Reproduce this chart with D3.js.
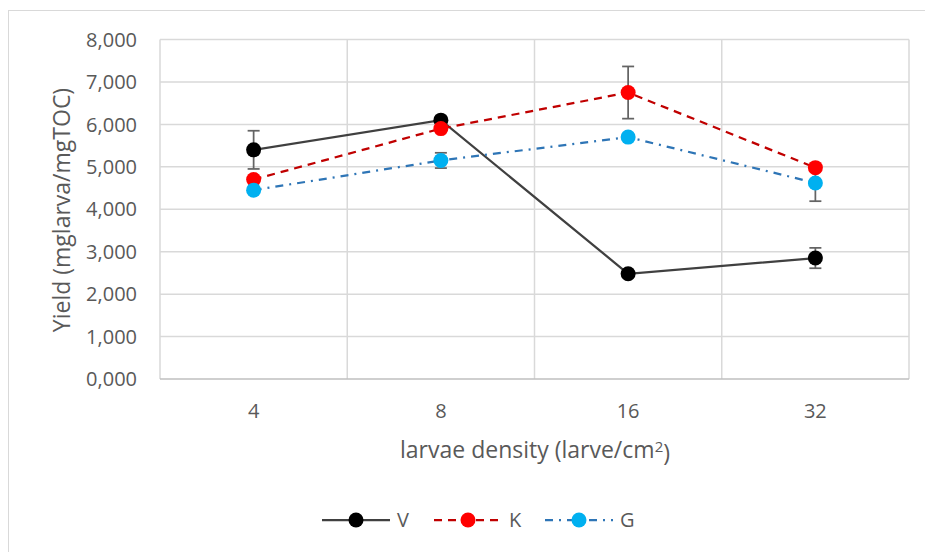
<!DOCTYPE html>
<html><head><meta charset="utf-8">
<script src="https://cdn.jsdelivr.net/npm/d3@7"></script>
<style>body{margin:0;background:#fff}svg{display:block}</style>
</head><body>
<svg id="c" width="925" height="552"></svg>
<script>
const categories = ["4", "8", "16", "32"];
const seriesNames = ["V", "K", "G"];
const valuesV = [5400, 6100, 2480, 2850];
const valuesK = [4700, 5900, 6750, 4980];
const valuesG = [4450, 5150, 5700, 4620];
const errorsV = [450, 0, 0, 240];
const errorsK = [0, 0, 615, 0];
const errorsG = [0, 180, 0, 430];
const yTicks = [0, 1000, 2000, 3000, 4000, 5000, 6000, 7000, 8000];

const series = [
  {name: "V", values: valuesV, errors: errorsV, line: "#404040", fill: "#000000", dash: null},
  {name: "K", values: valuesK, errors: errorsK, line: "#C00000", fill: "#FF0000", dash: "8,6"},
  {name: "G", values: valuesG, errors: errorsG, line: "#2E75B6", fill: "#00B0F0", dash: "8,6,2,6"}
];

const svg = d3.select("#c");
const font = "'Open Sans', sans-serif";
const textColor = "#595959";
const L = 160, R = 909, T = 39.5, B = 379;

// outer chart border
svg.append("rect").attr("x", 8.5).attr("y", 10.5).attr("width", 940).attr("height", 560)
  .attr("fill", "none").attr("stroke", "#d9d9d9").attr("stroke-width", 1);

const x = d3.scaleBand().domain(categories).range([L, R]).paddingInner(0).paddingOuter(0);
const y = d3.scaleLinear().domain([0, 8000]).range([B, T]);
const cx = c => x(c) + x.bandwidth() / 2;

// horizontal gridlines
svg.append("g").selectAll("line").data(yTicks.filter(d => d > 0)).join("line")
  .attr("x1", L).attr("x2", R).attr("y1", d => y(d)).attr("y2", d => y(d))
  .attr("stroke", "#d9d9d9").attr("stroke-width", 1.5);
// vertical gridlines at category boundaries
const bounds = categories.map(c => x(c)).concat([R]);
svg.append("g").selectAll("line").data(bounds).join("line")
  .attr("x1", d => d).attr("x2", d => d).attr("y1", T).attr("y2", B)
  .attr("stroke", "#d9d9d9").attr("stroke-width", 1.5);
// x axis line
svg.append("line").attr("x1", L).attr("x2", R).attr("y1", B).attr("y2", B)
  .attr("stroke", "#bfbfbf").attr("stroke-width", 1.5);

const fmt = d => d === 0 ? "0,000" : d3.format(",")(d);

// y tick labels
svg.append("g").selectAll("text").data(yTicks).join("text")
  .attr("x", 137).attr("y", d => y(d)).attr("dy", "0.36em")
  .attr("text-anchor", "end").attr("font-family", font).attr("font-size", 20)
  .attr("fill", textColor).text(fmt);

// x tick labels
svg.append("g").selectAll("text").data(categories).join("text")
  .attr("x", d => cx(d)).attr("y", 411).attr("dy", "0.36em")
  .attr("text-anchor", "middle").attr("font-family", font).attr("font-size", 20)
  .attr("fill", textColor).text(d => d);

// axis titles
svg.append("text").attr("transform", "translate(62,210) rotate(-90)")
  .attr("text-anchor", "middle").attr("dy", "0.36em").attr("font-family", font).attr("font-size", 23)
  .attr("fill", textColor).text("Yield (mglarva/mgTOC)");
const xt = svg.append("text").attr("x", 535).attr("y", 450).attr("dy", "0.36em")
  .attr("text-anchor", "middle").attr("font-family", font).attr("font-size", 23).attr("fill", textColor);
xt.append("tspan").text("larvae density (larve/cm");
xt.append("tspan").attr("dy", "-0.4em").attr("font-size", 15).text("2");
xt.append("tspan").attr("dy", "0.4em").text(")");

const line = d3.line().x((d, i) => cx(categories[i])).y(d => y(d));

// lines
series.forEach(s => {
  svg.append("path").attr("d", line(s.values)).attr("fill", "none")
    .attr("stroke", s.line).attr("stroke-width", 2.25)
    .attr("stroke-dasharray", s.dash);
});
// error bars
series.forEach(s => {
  const g = svg.append("g").attr("stroke", "#646464").attr("stroke-width", 1.75);
  s.values.forEach((v, i) => {
    const e = s.errors[i];
    if (!e) return;
    const px = cx(categories[i]);
    g.append("line").attr("x1", px).attr("x2", px).attr("y1", y(v + e)).attr("y2", y(v - e));
    g.append("line").attr("x1", px - 6).attr("x2", px + 6).attr("y1", y(v + e)).attr("y2", y(v + e));
    g.append("line").attr("x1", px - 6).attr("x2", px + 6).attr("y1", y(v - e)).attr("y2", y(v - e));
  });
});
// markers
series.forEach(s => {
  svg.append("g").selectAll("circle").data(s.values).join("circle")
    .attr("cx", (d, i) => cx(categories[i])).attr("cy", d => y(d)).attr("r", 7.5)
    .attr("fill", s.fill);
});

// legend
const legendX = [322, 434, 545];
series.forEach((s, i) => {
  const lx = legendX[i], ly = 520;
  svg.append("line").attr("x1", lx).attr("x2", lx + 68).attr("y1", ly).attr("y2", ly)
    .attr("stroke", s.line).attr("stroke-width", 2.25).attr("stroke-dasharray", s.dash);
  svg.append("circle").attr("cx", lx + 34).attr("cy", ly).attr("r", 7.5).attr("fill", s.fill);
  svg.append("text").attr("x", lx + 75).attr("y", ly).attr("dy", "0.36em")
    .attr("font-family", font).attr("font-size", 20).attr("fill", textColor).text(s.name);
});
</script>
</body></html>
